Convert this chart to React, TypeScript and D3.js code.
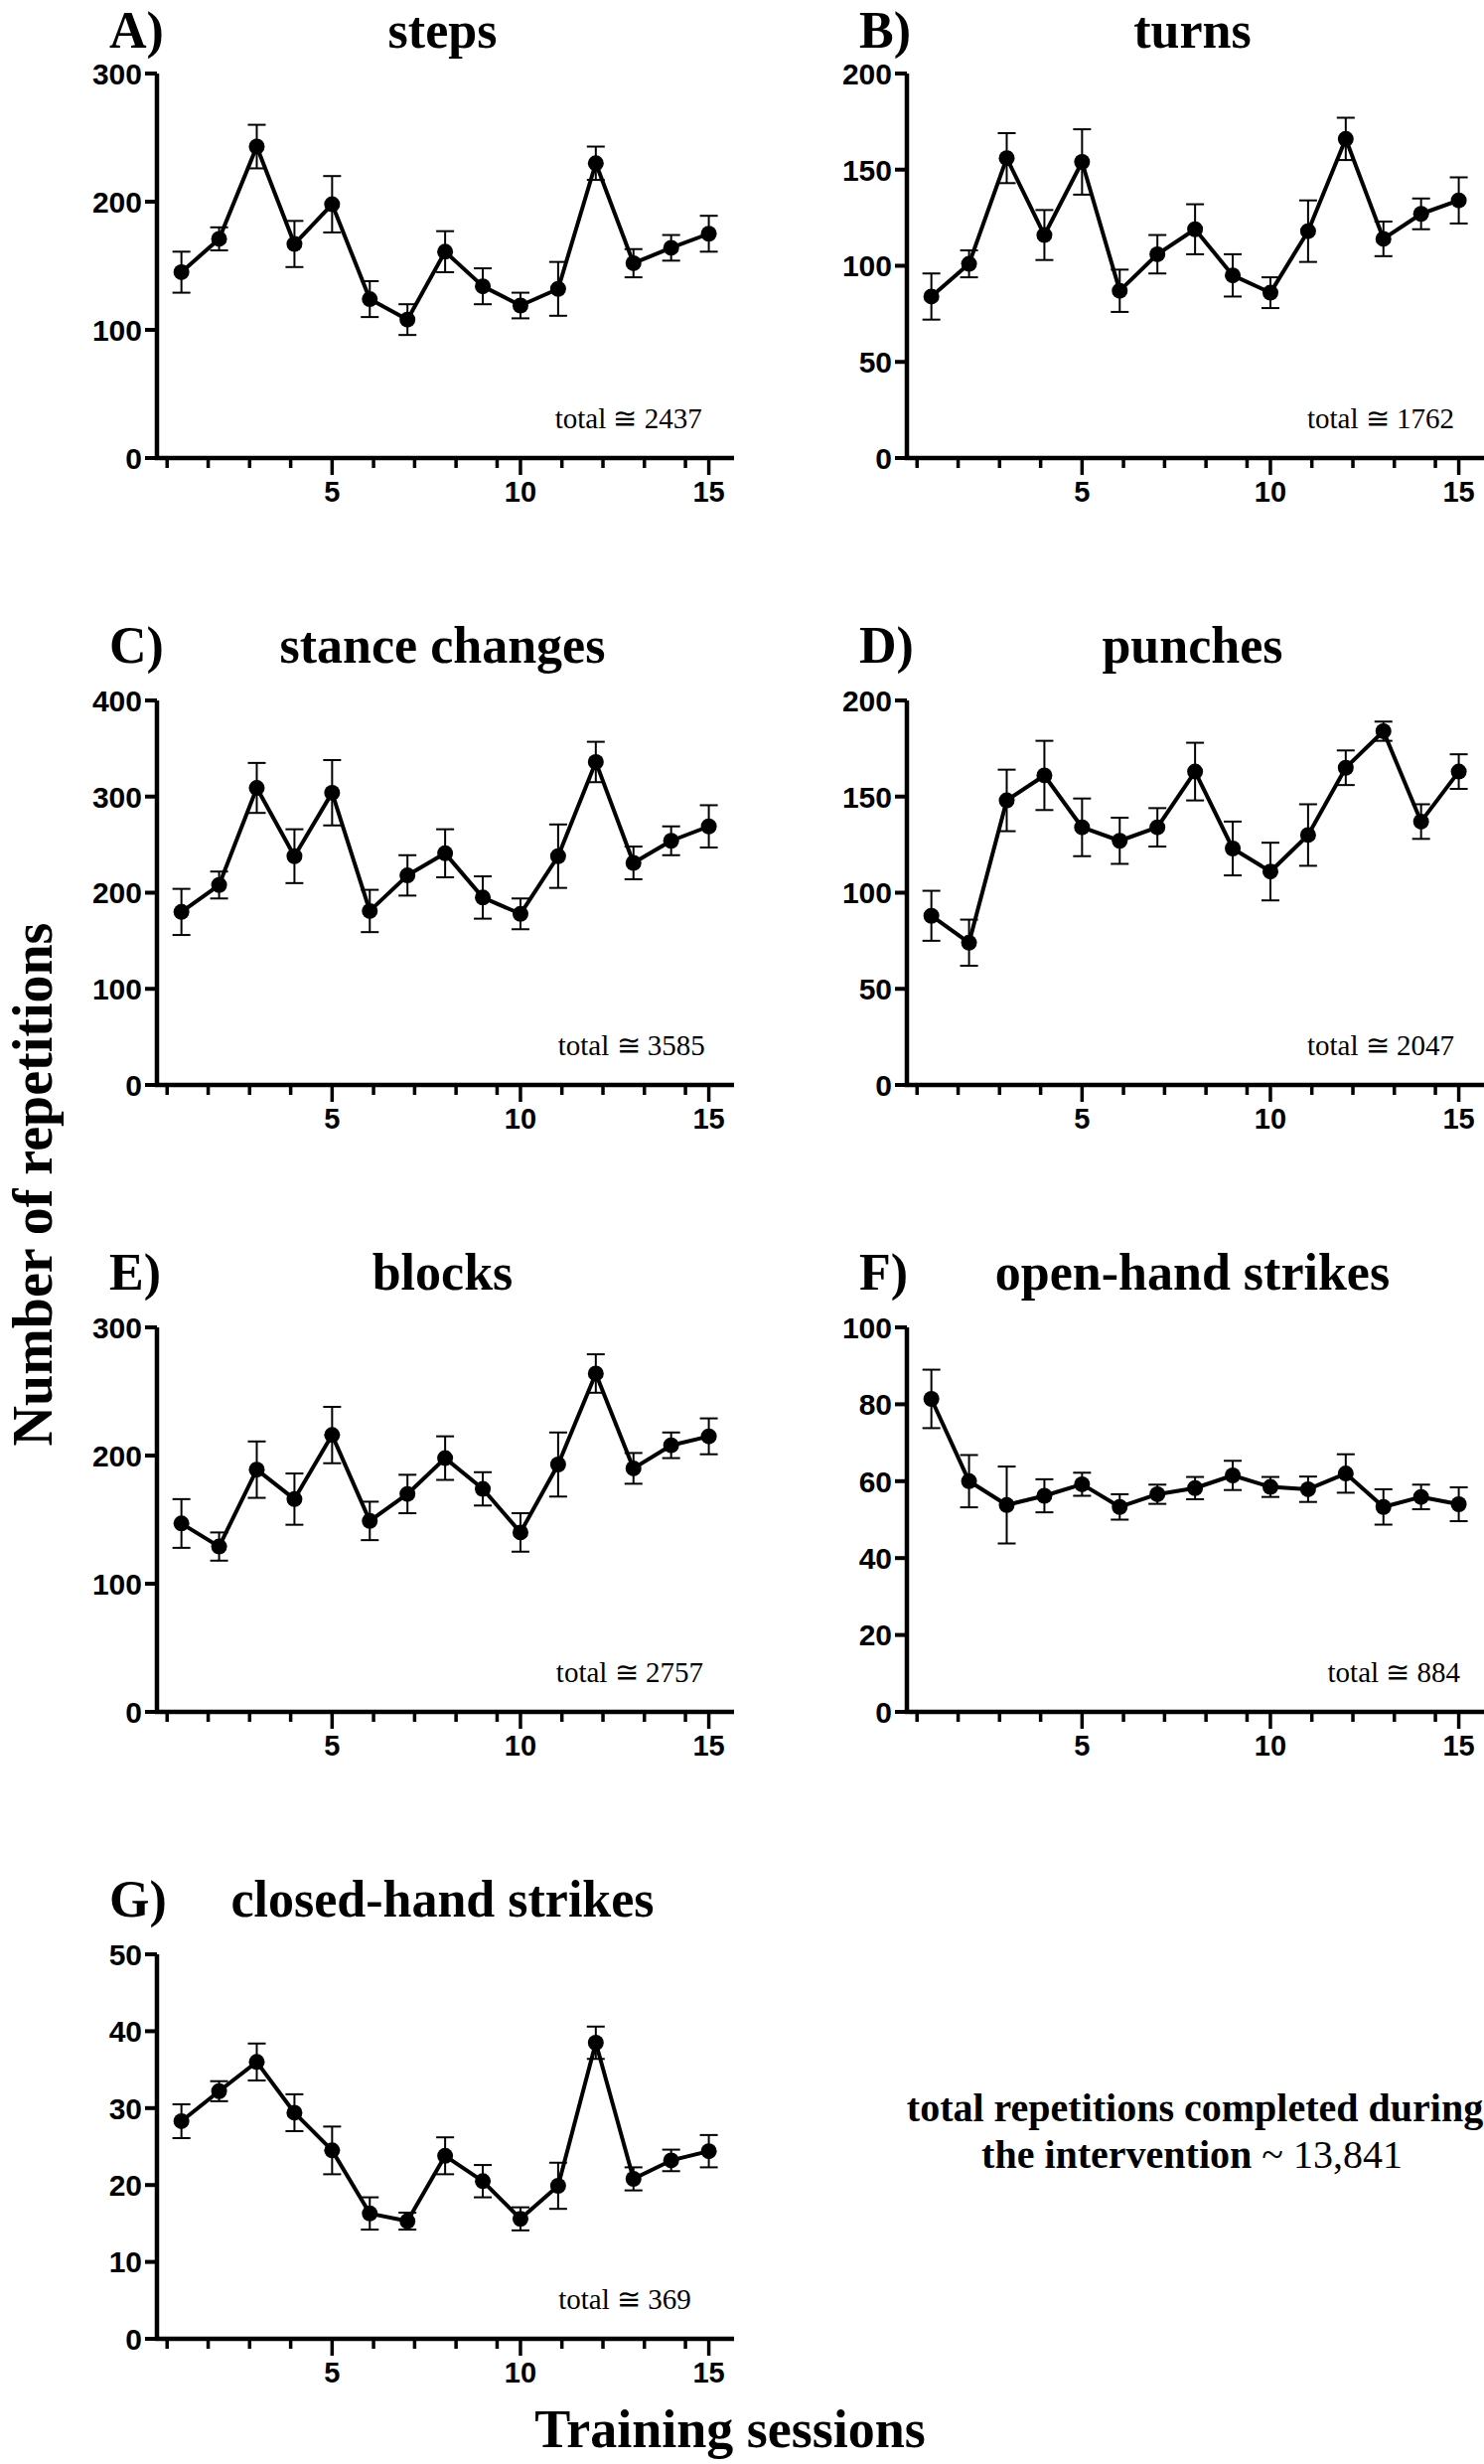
import React from 'react';
import * as d3 from 'd3';

// ---------- data ----------
const sessions = [1, 2, 3, 4, 5, 6, 7, 8, 9, 10, 11, 12, 13, 14, 15];
const majorTicks = [5, 10, 15];
const minorTicks = [0.62, 1.71, 2.81, 3.9, 6.1, 7.19, 8.29, 9.38, 11.1, 12.19, 13.29, 14.38];

const stepsMean = [145, 171, 243, 167, 198, 124, 108, 161, 134, 119, 132, 230, 152, 164, 175];
const stepsErr = [16, 9, 17, 18, 22, 14, 12, 16, 14, 10, 21, 13, 11, 10, 14];
const stepsTicks = [0, 100, 200, 300];

const turnsMean = [84, 101, 156, 116, 154, 87, 106, 119, 95, 86, 118, 166, 114, 127, 134];
const turnsErr = [12, 7, 13, 13, 17, 11, 10, 13, 11, 8, 16, 11, 9, 8, 12];
const turnsTicks = [0, 50, 100, 150, 200];

const stanceMean = [180, 208, 309, 238, 304, 181, 218, 241, 195, 178, 238, 336, 231, 254, 269];
const stanceErr = [24, 14, 26, 28, 34, 22, 21, 25, 22, 16, 33, 21, 17, 15, 22];
const stanceTicks = [0, 100, 200, 300, 400];

const punchesMean = [88, 74, 148, 161, 134, 127, 134, 163, 123, 111, 130, 165, 184, 137, 163];
const punchesErr = [13, 12, 16, 18, 15, 12, 10, 15, 14, 15, 16, 9, 5, 9, 9];
const punchesTicks = [0, 50, 100, 150, 200];

const blocksMean = [147, 129, 189, 166, 216, 149, 170, 198, 174, 140, 193, 264, 190, 208, 215];
const blocksErr = [19, 11, 22, 20, 22, 15, 15, 17, 13, 15, 25, 15, 12, 10, 14];
const blocksTicks = [0, 100, 200, 300];

const openMean = [81.4, 60, 53.8, 56.2, 59.2, 53.3, 56.6, 58.2, 61.5, 58.5, 57.9, 62, 53.3, 55.9, 54];
const openErr = [7.6, 6.8, 10, 4.3, 3, 3.3, 2.5, 2.9, 3.8, 2.6, 3.3, 5, 4.6, 3.2, 4.4];
const openTicks = [0, 20, 40, 60, 80, 100];

const closedMean = [28.3, 32.2, 36, 29.4, 24.5, 16.3, 15.3, 23.8, 20.5, 15.6, 19.9, 38.5, 20.8, 23.2, 24.4];
const closedErr = [2.2, 1.3, 2.4, 2.4, 3.1, 2.1, 1.1, 2.4, 2.1, 1.5, 3, 2.1, 1.5, 1.4, 2.1];
const closedTicks = [0, 10, 20, 30, 40, 50];

const panelLabels = ['A)', 'B)', 'C)', 'D)', 'E)', 'F)', 'G)'];
const panelTitles = ['steps', 'turns', 'stance changes', 'punches', 'blocks', 'open-hand strikes', 'closed-hand strikes'];
const panelTotals = ['2437', '1762', '3585', '2047', '2757', '884', '369'];

// ---------- layout ----------
const COL_X = [158, 913];
const ROW_ZERO = [461, 1092, 1723, 2354];
const TITLE_GAP = [26, 38, 38, 38];
const PLOT_W = 581;
const PLOT_H = 387;
const X_DOMAIN = [0.35, 15.67];
const TOTAL_END = [14.82, 14.88, 14.9, 14.88, 14.85, 15.04, 14.53];

const SANS = '"Liberation Sans", Arial, Helvetica, sans-serif';
const SERIF = '"Liberation Serif", "Times New Roman", Times, serif';

const panels = [
  { mean: stepsMean, err: stepsErr, ticks: stepsTicks, col: 0, row: 0 },
  { mean: turnsMean, err: turnsErr, ticks: turnsTicks, col: 1, row: 0 },
  { mean: stanceMean, err: stanceErr, ticks: stanceTicks, col: 0, row: 1 },
  { mean: punchesMean, err: punchesErr, ticks: punchesTicks, col: 1, row: 1 },
  { mean: blocksMean, err: blocksErr, ticks: blocksTicks, col: 0, row: 2 },
  { mean: openMean, err: openErr, ticks: openTicks, col: 1, row: 2 },
  { mean: closedMean, err: closedErr, ticks: closedTicks, col: 0, row: 3 },
].map((p, i) => ({ ...p, label: panelLabels[i], title: panelTitles[i], total: panelTotals[i], totalEnd: TOTAL_END[i] }));

function Panel({ p }: { p: any }) {
  const x0 = COL_X[p.col];
  const yZero = ROW_ZERO[p.row];
  const yTop = yZero - PLOT_H;
  const titleY = yTop - TITLE_GAP[p.row];
  const x = d3.scaleLinear().domain(X_DOMAIN).range([x0, x0 + PLOT_W]);
  const y = d3.scaleLinear().domain([0, p.ticks[p.ticks.length - 1]]).range([yZero, yTop]);
  const line = d3
    .line<number>()
    .x((_, i) => x(sessions[i]))
    .y((d) => y(d));
  const capHalf = 9;
  return (
    <g>
      <text x={x0 - 48} y={titleY} fontFamily={SERIF} fontWeight="bold" fontSize={52}>
        {p.label}
      </text>
      <text x={x0 + PLOT_W / 2 - 3} y={titleY} fontFamily={SERIF} fontWeight="bold" fontSize={52} textAnchor="middle">
        {p.title}
      </text>
      {/* y ticks */}
      {p.ticks.map((t: number) => (
        <g key={'y' + t}>
          <line x1={x0 - 12} x2={x0} y1={y(t)} y2={y(t)} stroke="#000" strokeWidth={4} />
          <text x={x0 - 15} y={y(t)} dy="0.36em" textAnchor="end" fontFamily={SANS} fontWeight="bold" fontSize={30}>
            {t}
          </text>
        </g>
      ))}
      {/* x ticks */}
      {minorTicks.map((t) => (
        <line key={'m' + t} x1={x(t)} x2={x(t)} y1={yZero} y2={yZero + 10} stroke="#000" strokeWidth={3.5} />
      ))}
      {majorTicks.map((t) => (
        <g key={'M' + t}>
          <line x1={x(t)} x2={x(t)} y1={yZero} y2={yZero + 17} stroke="#000" strokeWidth={3.5} />
          <text x={x(t)} y={yZero + 44} textAnchor="middle" fontFamily={SANS} fontWeight="bold" fontSize={29}>
            {t}
          </text>
        </g>
      ))}
      {/* axes */}
      <path
        d={`M${x0},${yTop} L${x0},${yZero} L${x0 + PLOT_W},${yZero}`}
        fill="none"
        stroke="#000"
        strokeWidth={4.5}
        strokeLinejoin="miter"
      />
      {/* error bars */}
      {p.mean.map((m: number, i: number) => {
        const cx = x(sessions[i]);
        const yt = y(m + p.err[i]);
        const yb = y(m - p.err[i]);
        return (
          <g key={'e' + i} stroke="#000" strokeWidth={2}>
            <line x1={cx} x2={cx} y1={yt} y2={yb} />
            <line x1={cx - capHalf} x2={cx + capHalf} y1={yt} y2={yt} />
            <line x1={cx - capHalf} x2={cx + capHalf} y1={yb} y2={yb} />
          </g>
        );
      })}
      <path d={line(p.mean) || ''} fill="none" stroke="#000" strokeWidth={4} strokeLinejoin="round" />
      {p.mean.map((m: number, i: number) => (
        <circle key={'c' + i} cx={x(sessions[i])} cy={y(m)} r={8} fill="#000" />
      ))}
      <text x={x(p.totalEnd)} y={yZero - 30} textAnchor="end" fontFamily={SERIF} fontSize={29}>
        {'total \u2245 ' + p.total}
      </text>
    </g>
  );
}

export default function App() {
  return (
    <svg
      width={1494}
      height={2480}
      viewBox="0 0 1494 2480"
      style={{ position: 'absolute', left: 0, top: 0, display: 'block', background: '#fff' }}
    >
      <rect x={0} y={0} width={1494} height={2480} fill="#fff" />
      {panels.map((p, i) => (
        <Panel key={i} p={p} />
      ))}
      <text
        transform="translate(52,1192) rotate(-90)"
        textAnchor="middle"
        fontFamily={SERIF}
        fontWeight="bold"
        fontSize={56}
      >
        Number of repetitions
      </text>
      <text x={735} y={2463} textAnchor="middle" fontFamily={SERIF} fontWeight="bold" fontSize={54}>
        Training sessions
      </text>
      <text x={1203} y={2135} textAnchor="middle" fontFamily={SERIF} fontWeight="bold" fontSize={40}>
        total repetitions completed during
      </text>
      <text x={1200} y={2182} textAnchor="middle" fontFamily={SERIF} fontWeight="bold" fontSize={40}>
        the intervention <tspan fontWeight="normal">~ 13,841</tspan>
      </text>
    </svg>
  );
}
